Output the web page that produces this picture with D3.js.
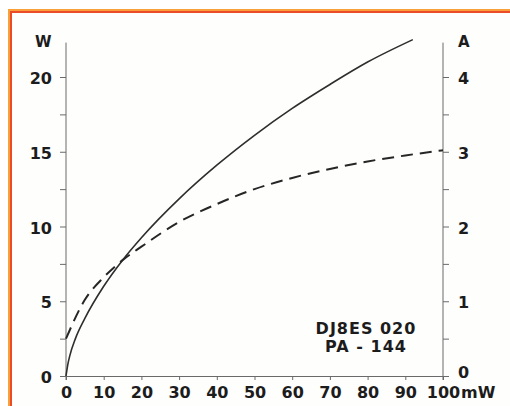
<!DOCTYPE html>
<html>
<head>
<meta charset="utf-8">
<script src="https://cdn.jsdelivr.net/npm/d3@7/dist/d3.min.js"></script>
<style>
  html, body { margin: 0; padding: 0; background: #ffffff; }
  svg { display: block; }
  text { font-family: "DejaVu Sans", sans-serif; font-weight: bold; fill: #1c1c1c; }
</style>
</head>
<body>
<svg id="chart" width="510" height="406"></svg>
<script>
// ---- data ----
const powerInput = [0, 0.5, 1, 2.5, 5, 10, 15, 20, 30, 40, 50, 60, 70, 80, 92];            // mW
const powerOutput = [0, 0.8, 1.35, 2.5, 3.85, 6.0, 7.75, 9.25, 11.85, 14.1, 16.1, 17.9, 19.5, 21.0, 22.5]; // W
const currentInput = [0, 5, 10, 15, 20, 30, 40, 50, 60, 70, 80, 90, 100];              // mW
const currentValues = [0.5, 1.02, 1.32, 1.55, 1.73, 2.06, 2.3, 2.5, 2.65, 2.77, 2.87, 2.95, 3.02]; // A
const xTicks = [0, 10, 20, 30, 40, 50, 60, 70, 80, 90, 100];
const leftTicks = [0, 2.5, 5, 7.5, 10, 12.5, 15, 17.5, 20];
const rightTicks = [0, 0.5, 1, 1.5, 2, 2.5, 3, 3.5, 4];
const leftUnit = "W", rightUnit = "A", xUnit = "mW";
const noteLines = ["DJ8ES 020", "PA - 144"];

const svg = d3.select("#chart");

// orange frame
svg.append("rect").attr("x", 9).attr("y", 10).attr("width", 520).attr("height", 420)
  .attr("fill", "#ffffff").attr("stroke", "#f9a03a").attr("stroke-width", 2);
svg.append("rect").attr("x", 11).attr("y", 12).attr("width", 520).attr("height", 420)
  .attr("fill", "#fefefd").attr("stroke", "#ec4b2a").attr("stroke-width", 2);

const x = d3.scaleLinear().domain([0, 100]).range([66, 443]);
const yW = d3.scaleLinear().domain([0, 20]).range([376, 77]);
const yA = d3.scaleLinear().domain([0, 4]).range([376, 77]);
const topW = 22.3;

const axisColor = "#6a6a6a";

// left axis
const gL = svg.append("g").attr("transform", `translate(${x(0)},0)`)
  .call(d3.axisLeft(yW).tickValues(leftTicks).tickSize(6).tickPadding(8)
    .tickFormat(d => d % 5 === 0 ? d : ""));
gL.select(".domain").remove();
gL.append("line").attr("x1", 0).attr("x2", 0).attr("y1", yW(0) + 4).attr("y2", yW(topW))
  .attr("stroke", axisColor);
gL.selectAll(".tick line").attr("stroke", axisColor);
gL.selectAll(".tick text").attr("font-size", 16).attr("dy", "0.42em")
  .attr("font-family", "DejaVu Sans").attr("font-weight", "bold").attr("fill", "#1c1c1c");

// right axis
const gR = svg.append("g").attr("transform", `translate(${x(100)},0)`)
  .call(d3.axisRight(yA).tickValues(rightTicks).tickSize(6).tickPadding(9)
    .tickFormat(d => Number.isInteger(d) ? d : ""));
gR.select(".domain").remove();
gR.append("line").attr("x1", 0).attr("x2", 0).attr("y1", yA(0) + 4).attr("y2", yW(topW))
  .attr("stroke", axisColor);
gR.selectAll(".tick line").attr("stroke", axisColor);
gR.selectAll(".tick text").attr("font-size", 16)
  .attr("dy", d => d === 0 ? "0.1em" : "0.42em")
  .attr("font-family", "DejaVu Sans").attr("font-weight", "bold").attr("fill", "#1c1c1c");

// bottom axis
const gB = svg.append("g").attr("transform", `translate(0,${yW(0)})`)
  .call(d3.axisBottom(x).tickValues(xTicks).tickSize(4));
gB.select(".domain").attr("stroke", axisColor);
gB.selectAll(".tick line").attr("stroke", axisColor);
gB.selectAll(".tick text").attr("font-size", 16).attr("y", 21.5).attr("dy", 0)
  .attr("font-family", "DejaVu Sans").attr("font-weight", "bold").attr("fill", "#1c1c1c");

// unit labels
svg.append("text").attr("x", 51.5).attr("y", 47).attr("text-anchor", "end")
  .attr("font-size", 15).text(leftUnit);
svg.append("text").attr("x", 458).attr("y", 47).attr("text-anchor", "start")
  .attr("font-size", 15).text(rightUnit);
svg.append("text").attr("x", x(100) + 18).attr("y", 397.5).attr("text-anchor", "start")
  .attr("font-size", 16).text(xUnit);

// curves
const lineW = d3.line().x((d, i) => x(powerInput[i])).y(d => yW(d)).curve(d3.curveMonotoneX);
svg.append("path").attr("d", lineW(powerOutput))
  .attr("fill", "none").attr("stroke", "#2e2e2e").attr("stroke-width", 1.6);

const lineA = d3.line().x((d, i) => x(currentInput[i])).y(d => yA(d)).curve(d3.curveMonotoneX);
svg.append("path").attr("d", lineA(currentValues))
  .attr("fill", "none").attr("stroke", "#262626").attr("stroke-width", 2)
  .attr("stroke-dasharray", "12,7");

// note
svg.selectAll("text.note").data(noteLines).enter().append("text").attr("class", "note")
  .attr("x", 366).attr("y", (d, i) => 333.5 + i * 18.5).attr("text-anchor", "middle")
  .attr("font-size", 16).attr("letter-spacing", 1).text(d => d);
</script>
</body>
</html>
